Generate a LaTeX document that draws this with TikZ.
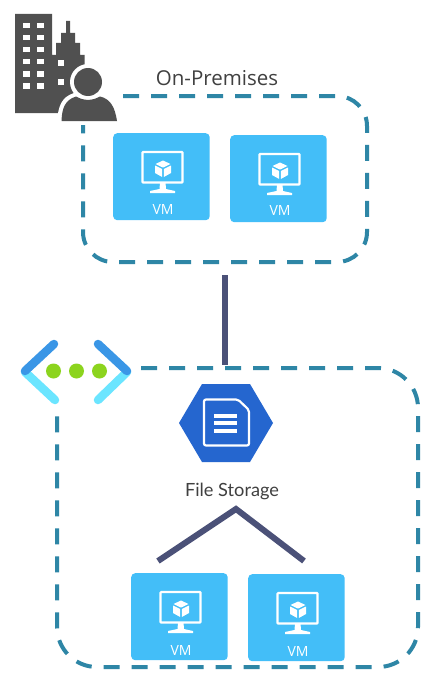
\documentclass[tikz,border=0pt]{standalone}
\usepackage{fontspec}
\setmainfont{Open Sans}
\newfontfamily\lato{Lato}
\definecolor{tile}{HTML}{43BEF8}
\definecolor{dashc}{HTML}{2E86A6}
\definecolor{linkc}{HTML}{4B5178}
\definecolor{bld}{HTML}{505050}
\definecolor{gwa}{HTML}{3A96E6}
\definecolor{gwb}{HTML}{6BE5FF}
\definecolor{gwg}{HTML}{8CD41E}
\definecolor{hexc}{HTML}{2566CF}
\definecolor{txt}{HTML}{404040}
\tikzset{
  x=1pt,y=-1pt,
  vmtile/.style={fill=tile,draw=none,rounded corners=4pt,minimum width=96.5pt,minimum height=87pt,inner sep=0pt,anchor=north west},
  vmlabel/.style={text=white,font=\fontsize{14}{15}\selectfont,inner sep=0pt},
  zone/.style={draw=dashc,line width=4pt,dash pattern=on 16pt off 12pt},
  link/.style={draw=linkc,line width=6pt},
  title/.style={text=txt,inner sep=0pt},
  gwarm/.style={line width=8.5pt,line cap=round,line join=round},
  pics/vmicon/.style={code={
    \draw[white,line width=2.2pt,rounded corners=0.8pt] (29.5,19) rectangle (69.5,49.5);
    \fill[white] (47,49.5) -- (52.5,49.5) -- (53,56) -- (62,58) -- (62,60) -- (37,60) -- (37,58) -- (46.5,56) -- cycle;
    \fill[white] (50,27.5) -- (57.5,31) -- (50,34.6) -- (42.5,31) -- cycle;
    \fill[white] (42,32.5) -- (49.2,36) -- (49.2,44) -- (42,40) -- cycle;
    \fill[white] (58,32.5) -- (50.8,36) -- (50.8,44) -- (58,40) -- cycle;
  }}
}
\begin{document}
\begin{tikzpicture}
\useasboundingbox (0,0) rectangle (442,685);
\fill[white] (0,0) rectangle (442,685);

% dashed zones
\draw[zone] (123,96) -- (337,96) arc[start angle=90,end angle=0,x radius=30,y radius=-30]
  -- (367,232) arc[start angle=0,end angle=-90,x radius=30,y radius=-30]
  -- (113,262) arc[start angle=-90,end angle=-180,x radius=30,y radius=-30]
  -- (83,125);
\draw[zone] (141,368) -- (378,368) arc[start angle=90,end angle=0,x radius=40,y radius=-40]
  -- (418,627) arc[start angle=0,end angle=-90,x radius=40,y radius=-40]
  -- (97,667) arc[start angle=-90,end angle=-180,x radius=40,y radius=-40]
  -- (57,408);

% named anchors for connectors
\coordinate (onpremBottom) at (225,275);
\coordinate (azureTop) at (225,365);
\coordinate (apex) at (236,509);
\coordinate (treeLeft) at (158,561);
\coordinate (treeRight) at (304,561);
\draw[link] (onpremBottom) -- (azureTop);
\draw[link,miter limit=10] (treeLeft) -- (apex) -- (treeRight);

% VM tiles
\node[vmtile] (vma) at (113,133) {};
\node[vmtile] (vmb) at (230,135) {};
\node[vmtile] (vmc) at (131,573) {};
\node[vmtile] (vmd) at (248,574) {};
\pic at (113,133) {vmicon};
\pic at (230,135) {vmicon};
\pic at (131,573) {vmicon};
\pic at (248,574) {vmicon};
\node[vmlabel] (la) at (163,210) {VM};
\node[vmlabel] (lb) at (280,211) {VM};
\node[vmlabel] (lc) at (181,650) {VM};
\node[vmlabel] (ld) at (298,651) {VM};

% titles
\node[title,font=\fontsize{20.5}{22}\selectfont] (onprem) at (217,78) {On-Premises};
\node[title,font=\lato\fontsize{18.2}{20}\selectfont] (fs) at (232,491) {File Storage};

% building
\fill[bld] (15,14) -- (52,14) -- (52,55) -- (56,55) -- (56,43) -- (61,43) -- (61,33) -- (66,33) -- (66,21) -- (70,21) -- (70,33) -- (75,33) -- (75,43) -- (80,43) -- (80,55) -- (84.5,55) -- (84.5,90) -- (70,113) -- (15,113) -- cycle;
\foreach \yy in {23,35,47,59,71,83}{
  \fill[white] (23,\yy) rectangle (29.5,\yy+5.5);
  \fill[white] (37,\yy) rectangle (43.5,\yy+5.5);
}
\fill[white] (57.5,60) rectangle (64,66);
\fill[white] (57.5,79) rectangle (64,85);
% person
\fill[white] (88,82) circle[radius=18];
\fill[white] (57,123) .. controls (58,105) and (62,97) .. (74,93) -- (102,93) .. controls (114,97) and (118,105) .. (120,123) -- cycle;
\fill[bld] (88,82) circle[radius=14];
\fill[bld] (61.5,121) .. controls (62,108) and (65,100) .. (76,96.5) .. controls (84,101) and (92,101) .. (100,96.5) .. controls (111,99) and (115,108) .. (117,121) -- cycle;

% gateway
\draw[gwarm,gwb] (25,372) -- (55,400);
\draw[gwarm,gwb] (127,372) -- (98,400);
\draw[gwarm,gwa] (54,344) -- (25,371);
\draw[gwarm,gwa] (98,344) -- (127,371);
\fill[gwg] (53.5,371) circle[radius=7.5];
\fill[gwg] (76.5,371) circle[radius=7.5];
\fill[gwg] (99.5,371) circle[radius=7.5];

% file storage icon
\fill[hexc] (179,423) -- (202,384) -- (250,384) -- (273,423) -- (250,462) -- (202,462) -- cycle;
\draw[white,line width=2.2pt,line join=round,rounded corners=2pt] (204,399.5) -- (238,399.5) -- (249,410) -- (249,445.5) -- (204,445.5) -- cycle;
\foreach \yy in {416,423,431}{\fill[white] (214,\yy-1.8) rectangle (237,\yy+1.8);}
\end{tikzpicture}
\end{document}
